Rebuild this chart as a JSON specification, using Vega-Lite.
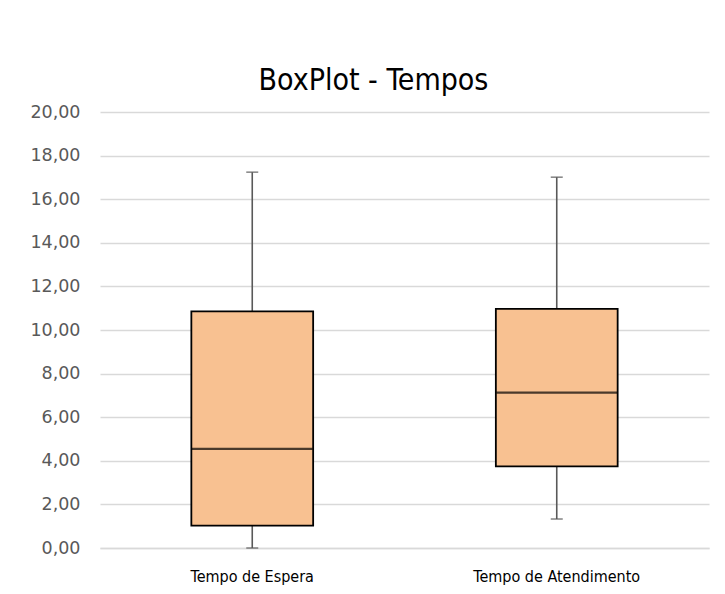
{
  "$schema": "https://vega.github.io/schema/vega-lite/v6.json",
  "autosize": {"type": "none"},
  "padding": {"left": 100, "top": 112, "right": 16, "bottom": 46},
  "width": 609,
  "height": 436,
  "background": "white",
  "title": {
    "text": "BoxPlot - Tempos",
    "font": "Arial Narrow, Liberation Sans Narrow, DejaVu Sans Condensed, sans-serif",
    "fontSize": 30,
    "fontWeight": "normal",
    "color": "#000000",
    "anchor": "middle",
    "dx": -31,
    "offset": 7
  },
  "data": {
    "values": [
      {"categoria": "Tempo de Espera", "min": 0.0, "q1": 1.03, "mediana": 4.55, "q3": 10.85, "max": 17.24},
      {"categoria": "Tempo de Atendimento", "min": 1.33, "q1": 3.74, "mediana": 7.13, "q3": 10.97, "max": 17.01}
    ]
  },
  "encoding": {
    "x": {
      "field": "categoria",
      "type": "nominal",
      "sort": null,
      "scale": {"paddingInner": 0, "paddingOuter": 0},
      "axis": {
        "title": null,
        "labelAngle": 0,
        "labelFont": "Arial Narrow, Liberation Sans Narrow, DejaVu Sans Condensed, sans-serif",
        "labelFontSize": 16,
        "labelColor": "#000000",
        "labelPadding": 20,
        "ticks": false,
        "domain": true,
        "domainColor": "#d9d9d9",
        "domainWidth": 1.3
      }
    }
  },
  "layer": [
    {
      "mark": {"type": "rule", "color": "#595959", "strokeWidth": 1.6},
      "encoding": {
        "y": {
          "field": "min",
          "type": "quantitative",
          "scale": {"domain": [0, 20]},
          "axis": {
            "title": null,
            "values": [0, 2, 4, 6, 8, 10, 12, 14, 16, 18, 20],
            "labelExpr": "replace(format(datum.value, '.2f'), '.', ',')",
            "labelFont": "DejaVu Sans",
            "labelFontSize": 17.5,
            "labelColor": "#595959",
            "labelPadding": 20,
            "ticks": false,
            "domain": false,
            "gridColor": "#d9d9d9",
            "gridWidth": 1.3
          }
        },
        "y2": {"field": "max"}
      }
    },
    {
      "mark": {"type": "tick", "color": "#595959", "thickness": 1.6, "size": 12},
      "encoding": {"y": {"field": "min", "type": "quantitative"}}
    },
    {
      "mark": {"type": "tick", "color": "#595959", "thickness": 1.6, "size": 12},
      "encoding": {"y": {"field": "max", "type": "quantitative"}}
    },
    {
      "mark": {"type": "bar", "width": {"band": 0.4}, "fill": "#F8C191", "stroke": "#000000", "strokeWidth": 1.8},
      "encoding": {
        "y": {"field": "q1", "type": "quantitative"},
        "y2": {"field": "q3"}
      }
    },
    {
      "mark": {"type": "tick", "color": "#000000", "thickness": 2.2, "size": 121},
      "encoding": {"y": {"field": "mediana", "type": "quantitative"}}
    }
  ],
  "config": {
    "view": {"stroke": null}
  }
}
